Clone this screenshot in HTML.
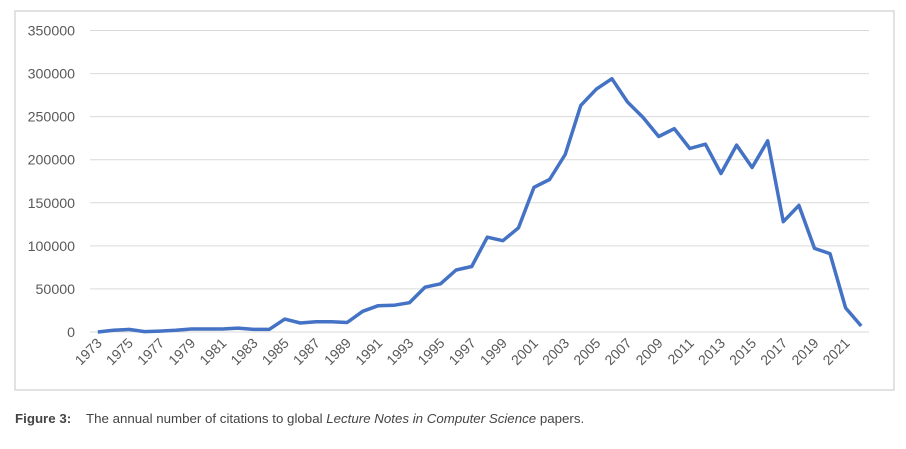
<!DOCTYPE html>
<html><head><meta charset="utf-8"><style>
body{margin:0;background:#fff;width:906px;height:444px;overflow:hidden;font-family:"Liberation Sans",sans-serif}
</style></head><body>
<svg width="906" height="444">
<rect x="15" y="11" width="879" height="379" fill="#fff" stroke="#d9d9d9" stroke-width="1.5"/>
<g id="grid"></g><g id="yt"></g><g id="xt"></g>
<path id="line" fill="none" stroke="#4472c4" stroke-width="3.5" stroke-linejoin="round"/>
<text x="15" y="423" font-size="13.3" fill="#444"><tspan font-weight="bold">Figure 3:</tspan><tspan x="86">The annual number of citations to global </tspan><tspan font-style="italic">Lecture Notes in Computer Science</tspan><tspan> papers.</tspan></text>
</svg>
<script>
const years=[];for(let y=1973;y<=2022;y++)years.push(y);
const values=[0,2000,3000,500,1000,2000,3500,3500,3500,4500,3000,3000,15000,10500,12000,12000,11000,24000,30500,31000,34000,52000,56000,72000,76000,110000,106000,121000,168000,177000,206000,263000,282000,294000,267000,249000,227000,236000,213000,218000,184000,217000,191000,222000,128000,147000,97000,91000,28000,7000];
const yTicks=[0,50000,100000,150000,200000,250000,300000,350000];
const X0=90,X1=869,Y0=332,Y1=30.5,VMAX=350000;
const ns="http://www.w3.org/2000/svg";
const yS=v=>Y0-(v/VMAX)*(Y0-Y1);
const step=(X1-X0)/years.length;
const xS=i=>X0+step/2+i*step;
const grid=document.getElementById('grid'),yt=document.getElementById('yt'),xt=document.getElementById('xt');
yTicks.forEach(t=>{
 const l=document.createElementNS(ns,'line');
 l.setAttribute('x1',X0);l.setAttribute('x2',X1);l.setAttribute('y1',yS(t));l.setAttribute('y2',yS(t));
 l.setAttribute('stroke','#d9d9d9');l.setAttribute('stroke-width','1');
 
 
 grid.appendChild(l);
 const tx=document.createElementNS(ns,'text');
 tx.setAttribute('x',75);tx.setAttribute('y',yS(t)+5);tx.setAttribute('text-anchor','end');
 tx.setAttribute('font-size','14.2');tx.setAttribute('fill','#595959');tx.textContent=t;
 
 
 yt.appendChild(tx);
});
years.forEach((y,i)=>{
 if(i%2)return;
 const tx=document.createElementNS(ns,'text');
 const x=xS(i)+5,yy=344;
 tx.setAttribute('transform',`translate(${x},${yy}) rotate(-45)`);
 tx.setAttribute('text-anchor','end');tx.setAttribute('font-size','14');tx.setAttribute('fill','#595959');
 tx.textContent=y;
 
 
 xt.appendChild(tx);
});
document.getElementById('line').setAttribute('d',values.map((v,i)=>(i?'L':'M')+xS(i).toFixed(1)+','+yS(v).toFixed(1)).join(''));
</script>
</body></html>
